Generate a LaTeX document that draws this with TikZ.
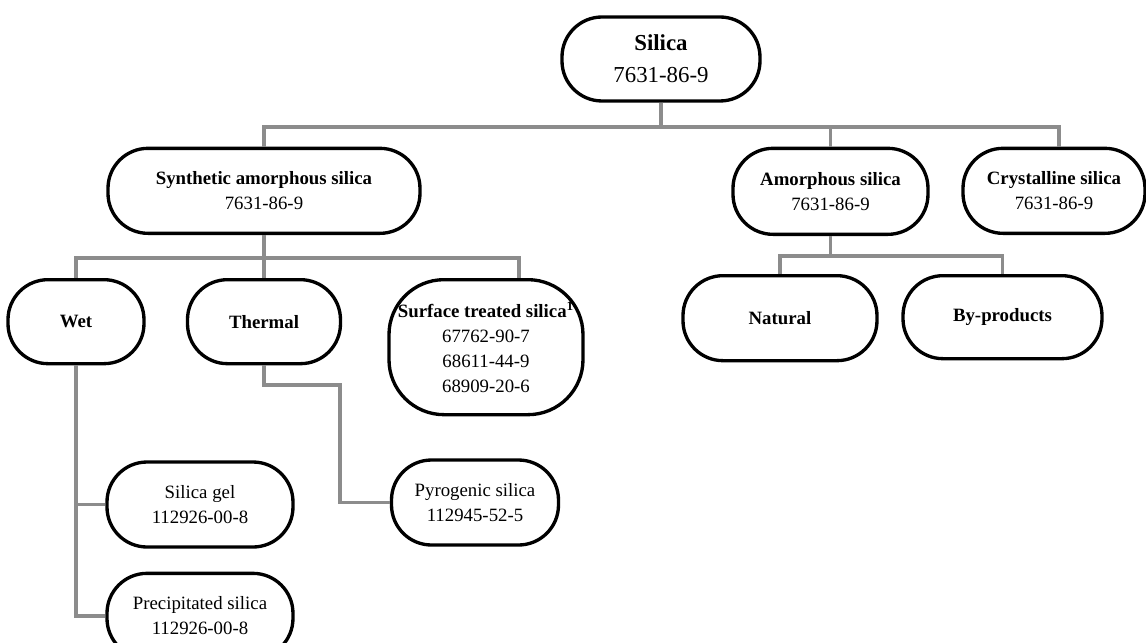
\documentclass[tikz,border=0pt]{standalone}
\usepackage{fontspec}
\setmainfont{Liberation Serif}
\usetikzlibrary{positioning}
\definecolor{linkgray}{RGB}{140,140,140}

\begin{document}
\begin{tikzpicture}[
    % Styles
    box/.style={ % Rounded category box
        draw,
        line width=1.9pt,
        rounded corners=0.8cm,
        minimum height=1.7cm,
        align=center,
        inner sep=2pt,
        font=\fontsize{10.7}{14.2}\selectfont
    },
    link/.style={ % Grey tree connector
        draw=linkgray,
        line width=2.1pt
    }
]
    \useasboundingbox (-13.22,1.18) rectangle (9.70,-11.68);

    % Top level
    \node[box, minimum width=3.96cm, minimum height=1.68cm, font=\fontsize{13}{18}\selectfont] (silica) {\textbf{Silica}\\7631-86-9};

    % Second level
    \node[box, minimum width=6.24cm] (synth) [below=0.88cm of silica, xshift=-7.94cm] {\textbf{Synthetic amorphous silica}\\7631-86-9};
    \node[box, minimum width=3.9cm, minimum height=1.72cm] (amorph) [below=0.88cm of silica, xshift=3.39cm] {\textbf{Amorphous silica}\\7631-86-9};
    \node[box, minimum width=3.64cm] (cryst) [below=0.88cm of silica, xshift=7.86cm] {\textbf{Crystalline silica}\\7631-86-9};

    % Third level
    \node[box, minimum width=2.72cm, minimum height=1.68cm] (wet) [below=0.86cm of synth, xshift=-3.76cm] {\textbf{Wet}};
    \node[box, minimum width=3.06cm, minimum height=1.68cm] (thermal) [below=0.86cm of synth] {\textbf{Thermal}};
    \node[box, minimum width=3.88cm, minimum height=2.7cm, rounded corners=1.1cm] (surface) [below=0.86cm of synth, xshift=4.44cm] {\textbf{Surface treated silica\textsuperscript{1}}\\67762-90-7\\68611-44-9\\68909-20-6};
    \node[box, minimum width=3.88cm] (natural) [below=0.76cm of amorph, xshift=-1.01cm] {\textbf{Natural}};
    \node[box, minimum width=3.98cm, minimum height=1.66cm] (byprod) [below=0.76cm of amorph, xshift=3.44cm] {\textbf{By-products}};

    % Fourth level
    \node[box, minimum width=3.72cm] (gel) [below=1.9cm of wet, xshift=2.48cm] {Silica gel\\112926-00-8};
    \node[box, minimum width=3.72cm] (precip) [below=0.46cm of gel] {Precipitated silica\\112926-00-8};
    \node[box, minimum width=3.34cm] (pyro) [below=1.86cm of thermal, xshift=4.22cm] {Pyrogenic silica\\112945-52-5};

    % Tree connectors
    \draw[link] (silica.south) -- ++(0,-0.48) -| (synth.north);
    \draw[link] (silica.south) -- ++(0,-0.48) -| (amorph.north);
    \draw[link] (silica.south) -- ++(0,-0.48) -| ([xshift=0.1cm]cryst.north);

    \draw[link] (synth.south) -- ++(0,-0.46) -| (wet.north);
    \draw[link] (synth.south) -- ++(0,-0.46) -| (thermal.north);
    \draw[link] (synth.south) -- ++(0,-0.46) -| ([xshift=0.66cm]surface.north);

    \draw[link] (amorph.south) -- ++(0,-0.4) -| (natural.north);
    \draw[link] (amorph.south) -- ++(0,-0.4) -| (byprod.north);

    \draw[link] (wet.south) |- (gel.west);
    \draw[link] (wet.south) |- (precip.west);
    \draw[link] (thermal.south) -- ++(0,-0.4) -| ([xshift=-1cm]pyro.west) -- (pyro.west);
\end{tikzpicture}
\end{document}
